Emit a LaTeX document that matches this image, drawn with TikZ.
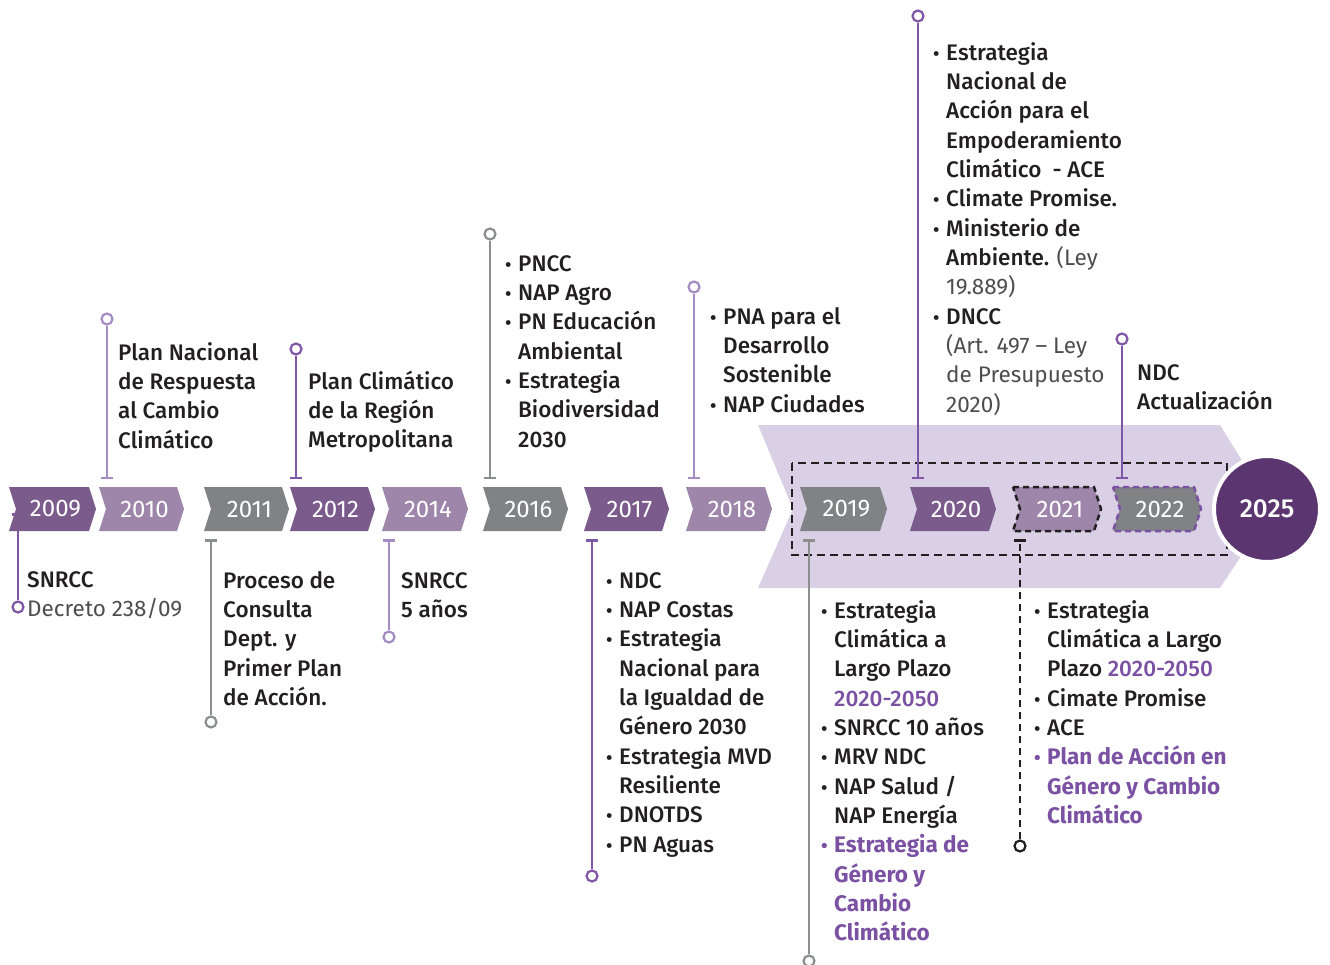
\documentclass[tikz,border=0pt]{standalone}
\usepackage{fontspec}
\setmainfont{Fira Sans}[UprightFont={Fira Sans Medium},BoldFont={Fira Sans Bold}]
\newfontfamily\regfont{Fira Sans}
\usetikzlibrary{arrows.meta}
\definecolor{dp}{HTML}{7A5B8C}
\definecolor{lpc}{HTML}{9E86AB}
\definecolor{gc}{HTML}{808285}
\definecolor{c25}{HTML}{5B3570}
\definecolor{lav}{HTML}{D9D0E6}
\definecolor{hp}{HTML}{7B51A3}
\definecolor{lnp}{HTML}{7F57A6}
\definecolor{lnl}{HTML}{A58DC4}
\definecolor{lng}{HTML}{8D8E90}
\definecolor{ink}{HTML}{231F20}
\definecolor{gry}{HTML}{4D4D4F}
\newcommand\fl{\rule{0pt}{21pt}}
\newcommand\bu{\makebox[13pt][l]{\fontsize{19}{19}\selectfont\raisebox{0pt}{•}}}
\newcommand\ind{\hspace*{13pt}}
\newcommand\hb[1]{{\color{hp}\bfseries #1}}
\newcommand\hr[1]{{\color{hp}#1}}
\newcommand\gt[1]{{\regfont\color{gry}#1}}
\newcommand\chev[6][]{%
  \fill[#5] (#3,487) -- (#4-7,487) -- (#4,509) -- (#4-7,531) -- (#3,531) -- (#3+7,509) -- cycle;
  \ifx\relax#1\relax\else
  \draw[#1] (#3,487) -- (#4-7,487) -- (#4,509) -- (#4-7,531) -- (#3,531) -- (#3+7,509) -- cycle;\fi
  \node[yr] (#2) at ({(#3+#4)/2+3},509) {#6};}
\begin{document}
\begin{tikzpicture}[x=1pt,y=-1pt,
  txt/.style={anchor=north west,inner sep=0pt,align=left,text=ink,font=\fontsize{22.5}{29.33}\selectfont},
  yr/.style={text=white,inner sep=0pt,font=\regfont\fontsize{24}{24}\selectfont},
  conn/.style={line width=2.5pt},
  tbar/.style={-{Bar[width=12pt]}},
  dot/.style={circle,draw,fill=white,line width=2.2pt,inner sep=0pt,minimum size=11pt}]
\useasboundingbox (0,0) rectangle (1330,965);
% background arrow
\fill[lav] (758,425) -- (1220,425) -- (1272,509) -- (1220,588) -- (758,588) -- (793,509) -- cycle;
\draw[line width=2.5pt,dash pattern=on 8pt off 5pt,ink] (792,463) rectangle (1227,555);
% connectors above
\node[dot,draw=lnl] (e2010) at (107,319) {};
\coordinate (t2010) at (107,479);
\draw[conn,lnl,tbar] (e2010) -- (t2010);
\node[dot,draw=lnp] (e2012) at (296,349) {};
\coordinate (t2012) at (296,479);
\draw[conn,lnp,tbar] (e2012) -- (t2012);
\node[dot,draw=lng] (e2016) at (490,234) {};
\coordinate (t2016) at (490,479);
\draw[conn,lng,tbar] (e2016) -- (t2016);
\node[dot,draw=lnl] (e2018) at (694,287) {};
\coordinate (t2018) at (694,479);
\draw[conn,lnl,tbar] (e2018) -- (t2018);
\node[dot,draw=lnp] (e2020) at (918,16) {};
\coordinate (t2020) at (918,479);
\draw[conn,lnp,tbar] (e2020) -- (t2020);
\node[dot,draw=lnp] (e2022) at (1122,339) {};
\coordinate (t2022) at (1122,479);
\draw[conn,lnp,tbar] (e2022) -- (t2022);
% connectors below
\node[dot,draw=lnp] (e2009) at (18,607) {};
\coordinate (t2009) at (18,513);
\draw[conn,lnp,tbar] (e2009) -- (t2009);
\node[dot,draw=lng] (e2011) at (211,722) {};
\coordinate (t2011) at (211,539);
\draw[conn,lng,tbar] (e2011) -- (t2011);
\node[dot,draw=lnl] (e2014) at (389,637) {};
\coordinate (t2014) at (389,539);
\draw[conn,lnl,tbar] (e2014) -- (t2014);
\node[dot,draw=lnp] (e2017) at (592,876) {};
\coordinate (t2017) at (592,539);
\draw[conn,lnp,tbar] (e2017) -- (t2017);
\node[dot,draw=lng] (e2019) at (809,961) {};
\coordinate (t2019) at (809,539);
\draw[conn,lng,tbar] (e2019) -- (t2019);
\node[dot,draw=ink] (e2021) at (1020,846) {};
\coordinate (t2021) at (1020,539);
\draw[conn,ink,dash pattern=on 7pt off 5pt,tbar] (e2021) -- (t2021);
% chevrons
\chev{c2009}{9}{96}{dp}{2009}
\chev{c2010}{99}{184}{lpc}{2010}
\chev{c2011}{204}{289}{gc}{2011}
\chev{c2012}{290}{375}{dp}{2012}
\chev{c2014}{382}{468}{lpc}{2014}
\chev{c2016}{483}{568}{gc}{2016}
\chev{c2017}{584}{669}{dp}{2017}
\chev{c2018}{686}{772}{lpc}{2018}
\chev{c2019}{800}{887}{gc}{2019}
\chev{c2020}{910}{996}{dp}{2020}
\chev[ink,line width=2.5pt,dash pattern=on 6pt off 4pt]{c2021}{1013}{1101}{lpc}{2021}
\chev[hp,line width=2.5pt,dash pattern=on 6pt off 4pt]{c2022}{1113}{1201}{gc}{2022}
\node[circle,fill=c25,draw=white,line width=4pt,minimum size=106pt,inner sep=0pt,text=white,font=\fontsize{26}{26}\selectfont] (c2025) at (1267,509) {2025};
% texts above
\node[txt] (x2010) at (118,339) {\fl Plan Nacional\\de Respuesta\\al Cambio\\Climático};
\node[txt] (x2012) at (308,368) {\fl Plan Climático\\de la Región\\Metropolitana};
\node[txt] (x2016) at (505,250) {\fl\bu PNCC\\\bu NAP Agro\\\bu PN Educación\\\ind Ambiental\\\bu Estrategia\\\ind Biodiversidad\\\ind 2030};
\node[txt] (x2018) at (710,303) {\fl\bu PNA para el\\\ind Desarrollo\\\ind Sostenible\\\bu NAP Ciudades};
\node[txt] (x2020) at (933,39) {\fl\bu Estrategia\\\ind Nacional de\\\ind Acción para el\\\ind Empoderamiento\\\ind Climático\ \ - ACE\\\bu Climate Promise.\\\bu Ministerio de\\\ind Ambiente. \gt{(Ley}\\\ind \gt{19.889)}\\\bu DNCC\\\ind \gt{(Art. 497 – Ley}\\\ind \gt{de Presupuesto}\\\ind \gt{2020)}};
\node[txt] (x2022) at (1137,359) {\fl NDC\\Actualización};
% texts below
\node[txt] (x2009) at (27,566) {\fl SNRCC\\\gt{Decreto 238/09}};
\node[txt] (x2011) at (223,567) {\fl Proceso de\\Consulta\\Dept. y\\Primer Plan\\de Acción.};
\node[txt] (x2014) at (401,567) {\fl SNRCC\\5 años};
\node[txt] (x2017) at (606,567) {\fl\bu NDC\\\bu NAP Costas\\\bu Estrategia\\\ind Nacional para\\\ind la Igualdad de\\\ind Género 2030\\\bu Estrategia MVD\\\ind Resiliente\\\bu DNOTDS\\\bu PN Aguas};
\node[txt] (x2019) at (821,597) {\fl\bu Estrategia\\\ind Climática a\\\ind Largo Plazo\\\ind \hr{2020-2050}\\\bu SNRCC 10 años\\\bu MRV NDC\\\bu NAP Salud /\\\ind NAP Energía\\\hb{\bu Estrategia de}\\\ind \hb{Género y}\\\ind \hb{Cambio}\\\ind \hb{Climático}};
\node[txt] (x2021) at (1034,597) {\fl\bu Estrategia\\\ind Climática a Largo\\\ind Plazo \hr{2020-2050}\\\bu Cimate Promise\\\bu ACE\\\hb{\bu Plan de Acción en}\\\ind \hb{Género y Cambio}\\\ind \hb{Climático}};
\end{tikzpicture}
\end{document}
